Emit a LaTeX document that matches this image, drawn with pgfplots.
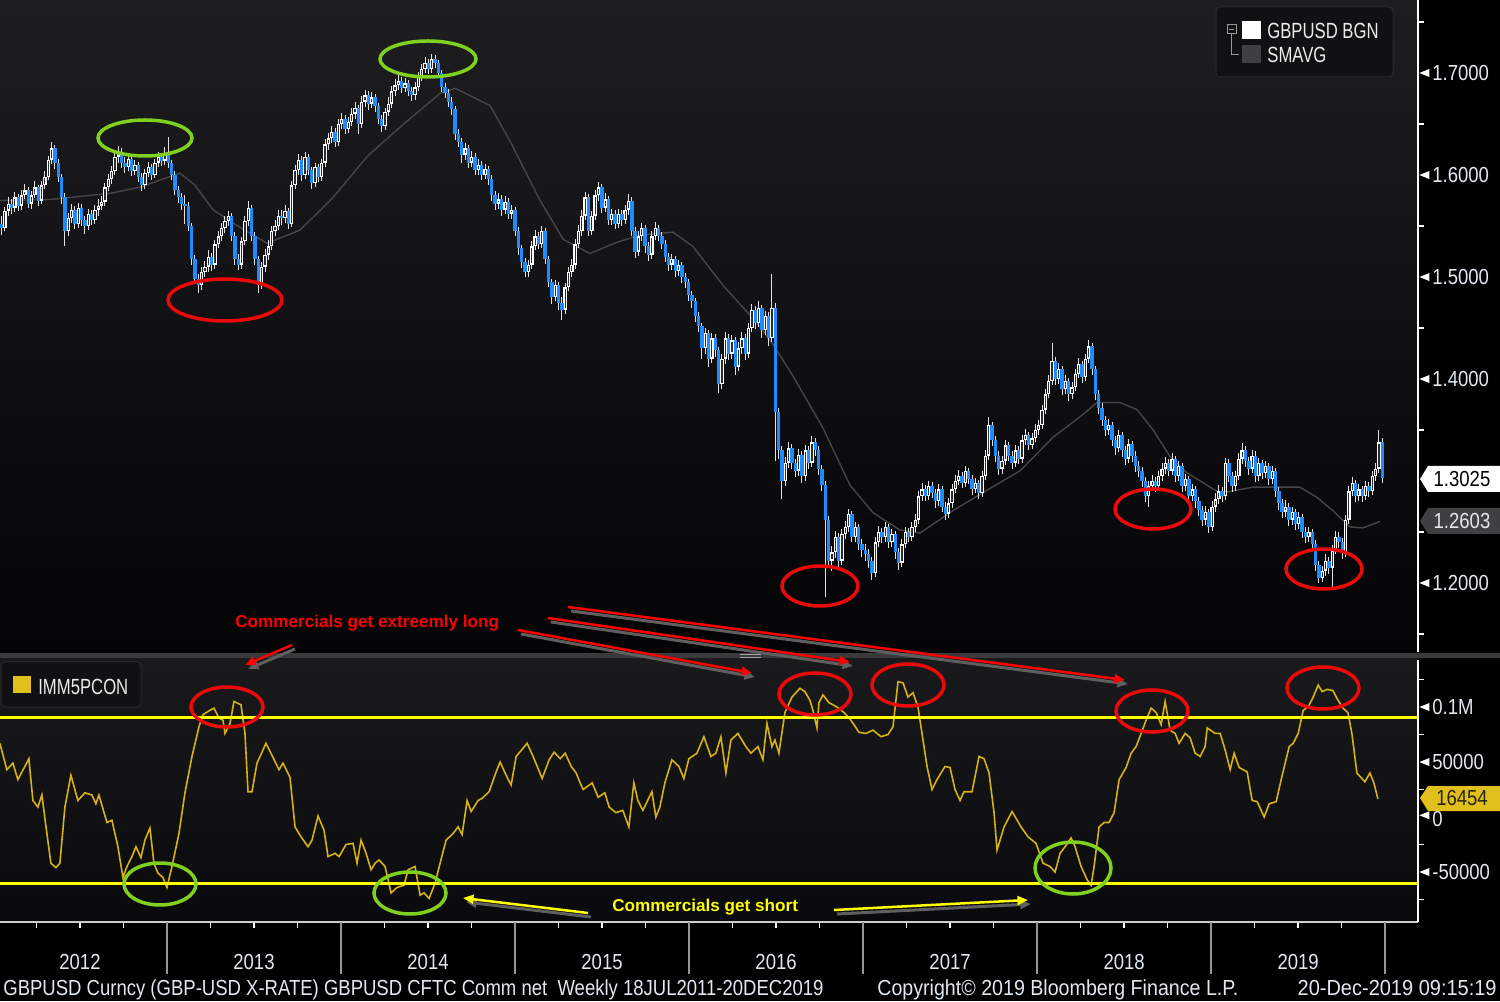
\documentclass[border=0pt]{standalone}
\usepackage{pgfplots}
\pgfplotsset{compat=1.18}
\usepackage{pgfplotstable}
\usepackage{fontspec}
\setmainfont{Liberation Sans}[FakeStretch=0.85]
\newfontfamily\legfam{Liberation Sans}[FakeStretch=0.76]
\newfontfamily\annfam{Liberation Sans}
\usetikzlibrary{arrows.meta}
\newlength\px \setlength\px{0.02cm}
\definecolor{bgtop}{RGB}{30,30,32}
\definecolor{bgbot}{RGB}{4,4,6}
\definecolor{lotop}{RGB}{26,26,28}
\definecolor{lobot}{RGB}{10,10,12}
\definecolor{axtext}{RGB}{226,232,240}
\definecolor{candleblue}{RGB}{30,140,255}
\definecolor{wick}{RGB}{225,225,225}
\definecolor{hollow}{RGB}{45,45,47}
\definecolor{smagray}{RGB}{70,70,72}
\definecolor{cotgold}{RGB}{214,178,18}
\definecolor{hline}{RGB}{255,255,0}
\definecolor{sep}{RGB}{58,58,60}
\definecolor{tagy}{RGB}{225,192,30}
\definecolor{tagg}{RGB}{64,64,66}
\definecolor{ellred}{RGB}{235,10,10}
\definecolor{ellgreen}{RGB}{128,208,32}
\definecolor{shadowc}{RGB}{95,95,95}
\definecolor{legbox}{RGB}{17,17,19}
\definecolor{legborder}{RGB}{42,42,44}
\definecolor{yeartick}{RGB}{150,150,150}
\definecolor{xaxisc}{RGB}{205,205,205}
\definecolor{legtext}{RGB}{236,236,236}
\newcommand\axfont{\fontsize{12.4pt}{12.4pt}\selectfont}
\newcommand\legfont{\legfam\fontsize{12.5pt}{12.5pt}\selectfont}
\newcommand\tri{\tikz[baseline={(0pt,-7.5\px)}]\fill[white] (0pt,0pt)--(10\px,4\px)--(10\px,-4\px)--cycle;\hspace{3\px}}
\tikzset{pix/.style={x=\px,y=-\px,shift={(0pt,1001\px)}}}

\pgfplotstableread{
o c h l
1.540 1.552 1.556 1.533
1.552 1.548 1.560 1.541
1.548 1.565 1.569 1.545
1.565 1.572 1.578 1.560
1.572 1.568 1.576 1.562
1.568 1.578 1.583 1.564
1.578 1.570 1.581 1.565
1.570 1.580 1.585 1.566
1.580 1.585 1.591 1.576
1.585 1.572 1.588 1.568
1.572 1.580 1.584 1.567
1.580 1.588 1.594 1.577
1.588 1.575 1.590 1.570
1.575 1.590 1.594 1.572
1.590 1.598 1.604 1.586
1.598 1.615 1.619 1.595
1.615 1.626 1.632 1.611
1.626 1.612 1.629 1.606
1.612 1.598 1.616 1.593
1.598 1.578 1.601 1.572
1.578 1.545 1.582 1.530
1.545 1.558 1.563 1.540
1.558 1.566 1.572 1.553
1.566 1.552 1.570 1.547
1.552 1.568 1.573 1.548
1.568 1.556 1.572 1.550
1.556 1.550 1.560 1.542
1.550 1.562 1.567 1.546
1.562 1.556 1.566 1.551
1.556 1.566 1.571 1.552
1.566 1.570 1.576 1.560
1.570 1.574 1.579 1.566
1.574 1.588 1.592 1.570
1.588 1.596 1.601 1.584
1.596 1.604 1.609 1.591
1.604 1.618 1.622 1.600
1.618 1.622 1.628 1.612
1.622 1.612 1.626 1.607
1.612 1.608 1.618 1.602
1.608 1.616 1.621 1.604
1.616 1.604 1.619 1.599
1.604 1.610 1.615 1.600
1.610 1.598 1.613 1.593
1.598 1.590 1.602 1.584
1.590 1.602 1.606 1.586
1.602 1.608 1.613 1.598
1.608 1.600 1.611 1.595
1.600 1.612 1.616 1.597
1.612 1.618 1.623 1.608
1.618 1.614 1.622 1.609
1.614 1.622 1.627 1.610
1.622 1.612 1.637 1.607
1.612 1.600 1.615 1.595
1.600 1.585 1.604 1.580
1.585 1.578 1.589 1.573
1.578 1.572 1.582 1.566
1.572 1.570 1.580 1.552
1.570 1.550 1.574 1.545
1.550 1.518 1.553 1.512
1.518 1.498 1.522 1.493
1.498 1.492 1.503 1.484
1.492 1.505 1.510 1.487
1.505 1.510 1.516 1.500
1.510 1.520 1.526 1.505
1.520 1.512 1.524 1.506
1.512 1.532 1.536 1.508
1.532 1.540 1.545 1.528
1.540 1.548 1.553 1.535
1.548 1.555 1.560 1.543
1.555 1.560 1.565 1.550
1.560 1.540 1.563 1.535
1.540 1.518 1.544 1.512
1.518 1.512 1.523 1.507
1.512 1.535 1.539 1.508
1.535 1.555 1.560 1.531
1.555 1.568 1.575 1.550
1.568 1.540 1.571 1.535
1.540 1.518 1.544 1.512
1.518 1.492 1.521 1.484
1.492 1.510 1.515 1.488
1.510 1.522 1.527 1.505
1.522 1.530 1.536 1.517
1.530 1.545 1.550 1.526
1.545 1.550 1.556 1.540
1.550 1.560 1.566 1.546
1.560 1.558 1.566 1.551
1.558 1.565 1.571 1.553
1.565 1.552 1.568 1.547
1.552 1.590 1.594 1.549
1.590 1.605 1.610 1.586
1.605 1.615 1.621 1.600
1.615 1.600 1.619 1.594
1.600 1.618 1.623 1.596
1.618 1.605 1.621 1.600
1.605 1.592 1.608 1.586
1.592 1.608 1.612 1.588
1.608 1.598 1.611 1.593
1.598 1.612 1.616 1.594
1.612 1.630 1.635 1.608
1.630 1.636 1.641 1.625
1.636 1.642 1.648 1.631
1.642 1.632 1.646 1.627
1.632 1.650 1.655 1.628
1.650 1.655 1.661 1.645
1.655 1.645 1.659 1.640
1.645 1.652 1.657 1.641
1.652 1.660 1.666 1.648
1.660 1.666 1.672 1.655
1.666 1.650 1.669 1.640
1.650 1.672 1.677 1.646
1.672 1.678 1.683 1.667
1.678 1.670 1.682 1.664
1.670 1.676 1.681 1.666
1.676 1.668 1.679 1.662
1.668 1.655 1.671 1.650
1.655 1.648 1.659 1.642
1.648 1.662 1.666 1.644
1.662 1.670 1.676 1.658
1.670 1.682 1.687 1.666
1.682 1.688 1.694 1.677
1.688 1.692 1.698 1.683
1.692 1.685 1.696 1.680
1.685 1.690 1.695 1.681
1.690 1.682 1.693 1.677
1.682 1.678 1.686 1.673
1.678 1.686 1.691 1.674
1.686 1.696 1.701 1.682
1.696 1.704 1.709 1.692
1.704 1.710 1.716 1.700
1.710 1.704 1.714 1.699
1.704 1.714 1.719 1.700
1.714 1.710 1.718 1.705
1.710 1.700 1.713 1.695
1.700 1.686 1.703 1.681
1.686 1.680 1.690 1.675
1.680 1.672 1.684 1.667
1.672 1.665 1.676 1.659
1.665 1.640 1.668 1.634
1.640 1.632 1.645 1.627
1.632 1.620 1.636 1.612
1.620 1.626 1.631 1.615
1.626 1.612 1.629 1.607
1.612 1.618 1.624 1.608
1.618 1.605 1.622 1.600
1.605 1.610 1.616 1.600
1.610 1.600 1.614 1.595
1.600 1.606 1.611 1.596
1.606 1.596 1.609 1.590
1.596 1.580 1.600 1.575
1.580 1.572 1.584 1.566
1.572 1.576 1.582 1.567
1.576 1.566 1.580 1.560
1.566 1.574 1.579 1.562
1.574 1.562 1.577 1.557
1.562 1.566 1.571 1.557
1.566 1.545 1.569 1.540
1.545 1.528 1.549 1.522
1.528 1.515 1.531 1.509
1.515 1.505 1.519 1.500
1.505 1.512 1.517 1.500
1.512 1.530 1.535 1.508
1.530 1.540 1.546 1.526
1.540 1.532 1.544 1.527
1.532 1.545 1.550 1.528
1.545 1.518 1.548 1.513
1.518 1.495 1.521 1.490
1.495 1.480 1.498 1.474
1.480 1.492 1.497 1.476
1.492 1.475 1.495 1.468
1.475 1.468 1.480 1.458
1.468 1.490 1.494 1.464
1.490 1.505 1.510 1.486
1.505 1.512 1.518 1.500
1.512 1.532 1.537 1.508
1.532 1.545 1.551 1.528
1.545 1.560 1.566 1.540
1.560 1.578 1.583 1.556
1.578 1.545 1.581 1.540
1.545 1.560 1.565 1.541
1.560 1.580 1.585 1.556
1.580 1.588 1.593 1.575
1.588 1.568 1.591 1.563
1.568 1.576 1.582 1.564
1.576 1.556 1.579 1.551
1.556 1.562 1.567 1.551
1.562 1.552 1.566 1.547
1.552 1.562 1.567 1.548
1.562 1.556 1.566 1.550
1.556 1.566 1.571 1.552
1.566 1.575 1.581 1.561
1.575 1.545 1.578 1.540
1.545 1.525 1.549 1.519
1.525 1.540 1.545 1.521
1.540 1.548 1.553 1.535
1.548 1.530 1.551 1.524
1.530 1.522 1.534 1.516
1.522 1.540 1.545 1.518
1.540 1.548 1.554 1.536
1.548 1.540 1.551 1.535
1.540 1.532 1.544 1.527
1.532 1.520 1.536 1.515
1.520 1.512 1.524 1.506
1.512 1.518 1.523 1.507
1.518 1.506 1.521 1.500
1.506 1.512 1.517 1.501
1.512 1.500 1.515 1.494
1.500 1.495 1.504 1.489
1.495 1.482 1.498 1.476
1.482 1.476 1.486 1.470
1.476 1.462 1.479 1.456
1.462 1.452 1.466 1.446
1.452 1.430 1.455 1.420
1.430 1.445 1.450 1.425
1.445 1.420 1.448 1.412
1.420 1.440 1.445 1.416
1.440 1.428 1.444 1.422
1.428 1.395 1.431 1.386
1.395 1.420 1.425 1.390
1.420 1.440 1.446 1.415
1.440 1.425 1.444 1.419
1.425 1.438 1.443 1.420
1.438 1.412 1.441 1.404
1.412 1.430 1.436 1.408
1.430 1.440 1.446 1.425
1.440 1.425 1.444 1.419
1.425 1.450 1.455 1.421
1.450 1.468 1.474 1.446
1.468 1.455 1.472 1.449
1.455 1.470 1.476 1.451
1.470 1.448 1.473 1.440
1.448 1.462 1.467 1.443
1.462 1.440 1.466 1.432
1.440 1.470 1.503 1.436
1.470 1.368 1.475 1.320
1.368 1.330 1.372 1.322
1.330 1.300 1.334 1.282
1.300 1.318 1.324 1.295
1.318 1.332 1.338 1.313
1.332 1.318 1.336 1.312
1.318 1.310 1.322 1.304
1.310 1.326 1.331 1.305
1.326 1.305 1.329 1.298
1.305 1.330 1.335 1.300
1.330 1.318 1.334 1.312
1.318 1.338 1.344 1.314
1.338 1.330 1.342 1.325
1.330 1.312 1.334 1.306
1.312 1.296 1.316 1.290
1.296 1.262 1.300 1.186
1.262 1.222 1.266 1.215
1.222 1.230 1.236 1.212
1.230 1.245 1.251 1.225
1.245 1.222 1.249 1.216
1.222 1.248 1.253 1.218
1.248 1.255 1.261 1.243
1.255 1.268 1.273 1.250
1.268 1.245 1.271 1.240
1.245 1.255 1.260 1.240
1.255 1.238 1.258 1.232
1.238 1.232 1.243 1.226
1.232 1.228 1.238 1.222
1.228 1.222 1.233 1.215
1.222 1.210 1.226 1.203
1.210 1.240 1.245 1.206
1.240 1.250 1.256 1.235
1.250 1.245 1.254 1.239
1.245 1.255 1.260 1.240
1.255 1.240 1.258 1.234
1.240 1.248 1.253 1.235
1.248 1.230 1.251 1.224
1.230 1.220 1.234 1.213
1.220 1.238 1.243 1.216
1.238 1.250 1.255 1.234
1.250 1.245 1.254 1.240
1.245 1.255 1.260 1.241
1.255 1.262 1.268 1.250
1.262 1.285 1.290 1.258
1.285 1.292 1.298 1.280
1.292 1.285 1.296 1.280
1.285 1.295 1.300 1.281
1.295 1.288 1.299 1.283
1.288 1.280 1.292 1.274
1.280 1.292 1.297 1.276
1.292 1.275 1.295 1.270
1.275 1.268 1.279 1.262
1.268 1.278 1.283 1.264
1.278 1.292 1.297 1.274
1.292 1.300 1.306 1.288
1.300 1.305 1.311 1.296
1.305 1.298 1.309 1.293
1.298 1.310 1.315 1.294
1.310 1.302 1.313 1.297
1.302 1.292 1.306 1.286
1.292 1.298 1.303 1.288
1.298 1.288 1.301 1.282
1.288 1.305 1.310 1.284
1.305 1.325 1.330 1.301
1.325 1.355 1.363 1.321
1.355 1.340 1.358 1.334
1.340 1.325 1.344 1.319
1.325 1.312 1.329 1.306
1.312 1.320 1.325 1.307
1.320 1.335 1.340 1.316
1.335 1.325 1.338 1.320
1.325 1.318 1.329 1.312
1.318 1.330 1.335 1.314
1.330 1.322 1.334 1.317
1.322 1.340 1.345 1.318
1.340 1.345 1.351 1.335
1.345 1.335 1.348 1.330
1.335 1.342 1.347 1.331
1.342 1.350 1.356 1.338
1.350 1.355 1.360 1.345
1.355 1.370 1.375 1.351
1.370 1.385 1.390 1.366
1.385 1.398 1.404 1.381
1.398 1.418 1.435 1.394
1.418 1.400 1.422 1.394
1.400 1.410 1.416 1.395
1.410 1.390 1.413 1.384
1.390 1.398 1.404 1.385
1.398 1.385 1.401 1.378
1.385 1.392 1.397 1.380
1.392 1.405 1.410 1.388
1.405 1.415 1.421 1.401
1.415 1.402 1.418 1.396
1.402 1.420 1.425 1.398
1.420 1.432 1.438 1.416
1.432 1.410 1.435 1.404
1.410 1.385 1.413 1.379
1.385 1.372 1.389 1.366
1.372 1.360 1.376 1.354
1.360 1.350 1.364 1.344
1.350 1.355 1.361 1.345
1.355 1.340 1.358 1.334
1.340 1.332 1.344 1.326
1.332 1.345 1.350 1.328
1.345 1.330 1.348 1.324
1.330 1.322 1.334 1.316
1.322 1.336 1.341 1.318
1.336 1.325 1.339 1.319
1.325 1.315 1.329 1.309
1.315 1.310 1.320 1.304
1.310 1.300 1.314 1.294
1.300 1.285 1.304 1.279
1.285 1.295 1.300 1.275
1.295 1.300 1.306 1.290
1.300 1.295 1.304 1.289
1.295 1.305 1.310 1.291
1.305 1.312 1.318 1.300
1.312 1.318 1.324 1.307
1.318 1.310 1.322 1.305
1.310 1.322 1.327 1.306
1.322 1.305 1.325 1.299
1.305 1.315 1.320 1.300
1.315 1.295 1.318 1.289
1.295 1.302 1.307 1.290
1.302 1.285 1.305 1.279
1.285 1.292 1.297 1.280
1.292 1.280 1.295 1.274
1.280 1.272 1.284 1.266
1.272 1.262 1.276 1.256
1.262 1.270 1.276 1.257
1.270 1.255 1.273 1.249
1.255 1.275 1.280 1.251
1.275 1.282 1.288 1.270
1.282 1.290 1.296 1.277
1.290 1.285 1.294 1.279
1.285 1.318 1.323 1.281
1.318 1.305 1.322 1.299
1.305 1.295 1.309 1.289
1.295 1.305 1.310 1.290
1.305 1.322 1.327 1.301
1.322 1.330 1.337 1.317
1.330 1.320 1.334 1.314
1.320 1.312 1.324 1.306
1.312 1.325 1.330 1.308
1.325 1.305 1.329 1.299
1.305 1.318 1.323 1.300
1.318 1.308 1.321 1.302
1.308 1.315 1.320 1.303
1.315 1.302 1.318 1.296
1.302 1.310 1.315 1.297
1.310 1.290 1.313 1.284
1.290 1.278 1.294 1.272
1.278 1.270 1.282 1.264
1.270 1.275 1.281 1.265
1.275 1.262 1.278 1.256
1.262 1.270 1.275 1.257
1.270 1.258 1.273 1.252
1.258 1.265 1.270 1.253
1.265 1.250 1.268 1.244
1.250 1.245 1.255 1.239
1.245 1.250 1.255 1.240
1.250 1.238 1.253 1.232
1.238 1.218 1.242 1.212
1.218 1.205 1.222 1.200
1.205 1.212 1.217 1.201
1.212 1.222 1.228 1.207
1.222 1.215 1.226 1.209
1.215 1.232 1.237 1.196
1.232 1.245 1.251 1.228
1.245 1.240 1.250 1.234
1.240 1.230 1.244 1.224
1.230 1.262 1.267 1.226
1.262 1.290 1.295 1.258
1.290 1.298 1.304 1.285
1.298 1.285 1.301 1.279
1.285 1.292 1.297 1.280
1.292 1.285 1.295 1.279
1.285 1.295 1.300 1.281
1.295 1.290 1.299 1.284
1.290 1.305 1.310 1.286
1.305 1.312 1.318 1.300
1.312 1.338 1.350 1.308
1.338 1.3025 1.342 1.298
}\candles

\begin{document}
\begin{tikzpicture}
\useasboundingbox (0,0) rectangle (1500\px,1001\px);
\fill[black] (0,0) rectangle (1500\px,1001\px);
\shade[top color=bgtop, bottom color=bgbot] (0,349\px) rectangle (1418\px,1001\px);
\shade[top color=lotop, bottom color=lobot] (0,79\px) rectangle (1418\px,342\px);
\fill[sep] (0,343\px) rectangle (1500\px,348\px);

% ---------------- price panel
\begin{axis}[
  at={(0pt,349\px)}, anchor=south west, scale only axis,
  width=1418\px, height=652\px,
  xmin=0.54, xmax=425.73, ymin=1.13239, ymax=1.77157,
  axis x line=none, axis y line*=right,
  axis line style={draw=white, line width=1.5\px},
  xtick=\empty,
  ytick={1.2,1.3,1.4,1.5,1.6,1.7},
  yticklabels={\tri1.2000,{},\tri1.4000,\tri1.5000,\tri1.6000,\tri1.7000},
  minor ytick={1.15,1.25,1.35,1.45,1.55,1.65,1.75},
  tick align=outside, major tick length=0pt, minor tick length=6\px,
  minor tick style={draw=white, line width=1.3\px},
  yticklabel style={anchor=west, inner sep=0pt, xshift=1\px, font=\axfont, text=axtext},
]
\addplot[smagray, line width=1.4\px, forget plot] coordinates {
(0.5,1.575) (15.5,1.576) (33.5,1.582) (42.5,1.588) (54.5,1.602) (59.0,1.590) (64.4,1.566) (70.4,1.553) (80.6,1.533) (90.5,1.546) (100.4,1.578) (110.6,1.618) (120.5,1.647) (132.5,1.680) (137.0,1.685) (147.5,1.668) (153.5,1.633) (162.5,1.575) (169.4,1.537) (177.4,1.523) (185.5,1.534) (192.4,1.541) (202.3,1.544) (208.3,1.530) (217.3,1.492) (227.5,1.455) (232.3,1.434) (238.3,1.403) (247.3,1.352) (255.4,1.296) (262.3,1.269) (270.4,1.252) (276.4,1.249) (286.3,1.271) (296.5,1.291) (306.4,1.310) (316.3,1.343) (324.4,1.363) (329.5,1.377) (336.4,1.377) (341.5,1.370) (346.3,1.350) (351.4,1.324) (356.5,1.308) (366.4,1.288) (376.3,1.294) (390.3,1.294) (395.4,1.284) (400.2,1.271) (405.3,1.255) (409.2,1.254) (414.3,1.2603)};
% wicks (low to high)
\addplot[wick, line width=1\px, forget plot, quiver={u=0, v=\thisrow{h}-\thisrow{l}}]
  table[x expr=\coordindex, y=l] {\candles};
% rising bodies (white)
\addplot[white, line width=3.4\px, forget plot, quiver={u=0, v={max(\thisrow{c}-\thisrow{o},0)}}]
  table[x expr=\coordindex, y=o] {\candles};
% hollow centre of the rising bodies
\addplot[hollow, line width=1.2\px, forget plot, quiver={u=0, v={max(\thisrow{c}-\thisrow{o}-0.0026,0)}}]
  table[x expr=\coordindex, y expr={\thisrow{o}+0.0013}] {\candles};
% falling bodies (blue)
\addplot[candleblue, line width=3.4\px, forget plot, quiver={u=0, v={min(\thisrow{c}-\thisrow{o},0)}}]
  table[x expr=\coordindex, y=o] {\candles};
\end{axis}

% ---------------- COT panel
\begin{axis}[
  at={(0pt,79\px)}, anchor=south west, scale only axis,
  width=1418\px, height=262\px,
  xmin=0.54, xmax=425.73, ymin=-95.45, ymax=142.73,
  axis x line*=bottom, axis y line*=right,
  axis line style={draw=white, line width=1.5\px},
  x axis line style={draw=xaxisc},
  xtick={24.52,76.70,128.88,181.06,233.24,285.42,337.60,389.78},
  xticklabels={2012,2013,2014,2015,2016,2017,2018,2019},
  minor xtick={11.48,24.525,...,416},
  extra x ticks={50.61,102.79,...,416},
  extra x tick labels={},
  extra x tick style={major tick length=52\px, tick style={draw=yeartick, line width=1.3\px}},
  xticklabel style={font=\axfont, text=axtext, yshift=-26\px},
  ytick={-50,0,50,100},
  yticklabels={\tri-50000,\tri\smash{\raisebox{-4\px}{0}},\tri50000,\tri0.1M},
  minor ytick={-75,-25,25,75,125},
  tick align=outside, major tick length=0pt, minor tick length=6\px,
  minor tick style={draw=white, line width=1.3\px},
  yticklabel style={anchor=west, inner sep=0pt, xshift=1\px, font=\axfont, text=axtext},
]
\addplot[cotgold, line width=1.6\px, forget plot] coordinates {
(0.5,67) (2.6,43) (4.4,49) (5.9,34) (8.0,46) (9.2,53) (10.4,15) (11.9,9) (13.1,20) (14.6,-15) (15.8,-42) (17.3,-46) (18.5,-42) (20.0,9) (21.8,38) (23.9,15) (26.0,22) (28.1,20) (29.3,12) (30.2,20) (32.6,-5) (34.1,-3) (35.9,-27) (37.4,-55) (38.6,-45) (40.1,-36) (41.3,-27) (42.8,-37) (44.0,-21) (45.5,-10) (46.7,-42) (47.9,-51) (49.4,-55) (50.6,-64) (52.1,-45) (54.2,-15) (56.0,22) (58.1,55) (60.2,82) (61.4,93) (63.5,97) (64.7,99) (66.2,90) (67.4,88) (68.0,76) (69.5,85) (70.7,105) (72.8,102) (74.0,76) (74.9,23) (76.1,23) (77.6,49) (80.3,67) (82.1,56) (84.2,43) (85.4,49) (87.5,36) (89.0,-9) (90.8,-18) (92.9,-27) (94.1,-21) (95.9,1) (97.7,-12) (98.9,-36) (101.0,-33) (102.2,-36) (104.3,-25) (106.4,-24) (107.6,-42) (108.8,-21) (110.3,-33) (111.8,-48) (113.0,-42) (114.2,-39) (116.0,-45) (117.8,-69) (119.6,-64) (121.7,-62) (122.9,-48) (125.0,-45) (126.5,-71) (127.7,-69) (129.2,-74) (131.0,-60) (132.5,-42) (134.3,-21) (136.4,-15) (137.9,-9) (139.1,-16) (140.6,15) (141.8,5) (143.9,15) (145.1,17) (147.2,23) (149.3,41) (150.5,50) (152.6,36) (153.8,29) (155.3,55) (158.6,67) (160.4,55) (163.1,35) (165.2,52) (166.7,59) (168.5,53) (170.0,58) (171.8,46) (173.3,40) (174.5,31) (175.4,25) (178.1,31) (179.9,18) (181.9,22) (183.2,9) (185.2,4) (187.3,6) (189.1,-9) (190.6,31) (191.8,15) (193.3,6) (196.0,23) (197.2,0) (198.4,9) (199.9,31) (202.0,52) (204.1,46) (205.6,35) (207.1,53) (209.5,58) (211.6,73) (213.7,55) (215.2,58) (216.7,73) (218.2,40) (219.7,70) (221.8,76) (224.2,64) (225.7,58) (227.8,64) (229.3,52) (230.5,85) (232.0,64) (232.9,70) (234.1,58) (235.9,95) (238.0,109) (240.4,117) (241.9,114) (243.4,106) (244.3,97) (245.5,81) (246.1,104) (247.3,111) (249.1,104) (251.5,100) (253.6,95) (255.7,88) (258.1,77) (260.2,76) (262.3,79) (264.7,73) (266.8,75) (268.3,82) (269.8,123) (271.3,122) (272.8,109) (274.3,113) (275.8,100) (277.3,70) (278.5,46) (280.0,25) (281.5,34) (283.9,46) (285.4,45) (286.9,25) (288.4,15) (289.6,23) (292.0,23) (294.1,55) (295.6,53) (297.1,40) (298.6,4) (299.5,-30) (301.6,-9) (304.0,5) (306.7,-9) (308.8,-18) (311.2,-24) (313.3,-42) (315.4,-45) (316.9,-50) (318.4,-33) (319.9,-27) (321.7,-19) (322.9,-27) (324.7,-45) (326.5,-57) (327.7,-62) (328.6,-45) (330.1,-9) (331.6,-5) (333.1,-5) (334.6,4) (336.1,34) (338.2,45) (339.7,58) (341.2,64) (342.7,76) (344.2,88) (345.7,99) (347.2,95) (348.7,84) (349.9,105) (351.4,79) (352.9,76) (354.1,67) (355.9,76) (357.4,72) (358.9,58) (360.4,55) (361.9,64) (362.5,81) (364.9,76) (366.4,76) (367.9,61) (369.4,43) (370.6,58) (372.1,45) (374.5,41) (376.0,15) (377.5,14) (379.6,0) (381.1,12) (383.2,14) (384.7,34) (387.1,64) (388.3,67) (389.8,76) (391.3,97) (392.8,100) (394.3,109) (395.8,120) (397.0,114) (398.5,116) (400.2,115) (401.4,108) (403.2,99) (404.7,95) (405.9,76) (407.4,40) (409.8,32) (411.3,40) (412.5,31) (413.7,16.454)};
\addplot[hline, line width=3\px, forget plot] coordinates {(0.54,90.91) (425.73,90.91)};
\addplot[hline, line width=3\px, forget plot] coordinates {(0.54,-60) (425.73,-60)};
\end{axis}

\begin{scope}[pix]
% grip on separator
\draw[gray!70, line width=1.2\px] (740,654.5) -- (761,654.5) (740,657.5) -- (761,657.5);
% legend top
\filldraw[fill=legbox, draw=legborder, line width=1\px, rounded corners=4\px] (1216,7) rectangle (1393,77);
\draw[gray!80, line width=1\px] (1227,25) rectangle (1236,34) (1229,29.5) -- (1234,29.5) (1231.5,34) -- (1231.5,55) -- (1239,55);
\fill[white] (1242,21) rectangle (1261,39);
\fill[tagg] (1242,45) rectangle (1261,63);
\node[anchor=base west, inner sep=0pt, text=legtext, font=\legfont] at (1267,39) {GBPUSD BGN};
\node[anchor=base west, inner sep=0pt, text=legtext, font=\legfont] at (1267,63) {SMAVG};
% legend lower
\filldraw[fill=legbox, draw=legborder, line width=1\px, rounded corners=4\px] (1,662) rectangle (141,707);
\fill[tagy] (13,676) rectangle (31,693);
\node[anchor=base west, inner sep=0pt, text=legtext, font=\legfont] at (38,694) {IMM5PCON};
% value tags
\fill[white] (1420,479) -- (1428,466) -- (1500,466) -- (1500,492) -- (1428,492) -- cycle;
\node[text=black, font=\axfont, inner sep=0pt] at (1462,479) {1.3025};
\fill[tagg] (1420,521) -- (1428,508) -- (1500,508) -- (1500,534) -- (1428,534) -- cycle;
\node[text=axtext, font=\axfont, inner sep=0pt] at (1462,521) {1.2603};
\fill[tagy] (1420,798) -- (1428,786) -- (1500,786) -- (1500,811) -- (1428,811) -- cycle;
\node[text={rgb,255:red,40;green,38;blue,10}, font=\axfont, inner sep=0pt] at (1462,798) {16454};
% ellipses
\begin{scope}[line width=3.5\px]
\draw[ellred] (225,300) ellipse [x radius=57, y radius=21];
\draw[ellred] (820,586) ellipse [x radius=38, y radius=20];
\draw[ellred] (1153,509) ellipse [x radius=38, y radius=20];
\draw[ellred] (1324,569) ellipse [x radius=38, y radius=20];
\draw[ellred] (227,707) ellipse [x radius=36, y radius=20];
\draw[ellred] (815,694) ellipse [x radius=36, y radius=21];
\draw[ellred] (908,685) ellipse [x radius=36, y radius=21];
\draw[ellred] (1152,711) ellipse [x radius=36, y radius=21];
\draw[ellred] (1323,688) ellipse [x radius=36, y radius=21];
\draw[ellgreen] (145,138) ellipse [x radius=47, y radius=18];
\draw[ellgreen] (428,59) ellipse [x radius=48, y radius=18];
\draw[ellgreen] (160,884) ellipse [x radius=36, y radius=21];
\draw[ellgreen] (410,893) ellipse [x radius=36, y radius=21];
\draw[ellgreen] (1073,868) ellipse [x radius=38, y radius=26];
\end{scope}
% arrows with shadows
\begin{scope}[line width=3\px, shadowc, -{Triangle[length=6pt,width=5pt]}]
\draw (295,649) -- (248,669);
\draw (521,634) -- (755,677);
\draw (551,622) -- (853,666);
\draw (571,611) -- (1128,684);
\draw (591,917) -- (466,902);
\draw (837,914) -- (1031,904);
\end{scope}
\begin{scope}[line width=2.5\px, -{Triangle[length=6pt,width=5pt]}]
\draw[red] (292,645) -- (245,665);
\draw[red] (518,630) -- (752,673);
\draw[red] (548,618) -- (850,662);
\draw[red] (568,607) -- (1125,680);
\draw[hline] (588,913) -- (463,898);
\draw[hline] (834,910) -- (1028,900);
\end{scope}
\node[anchor=base west, inner sep=0pt, text=red, font={\annfam\bfseries\fontsize{9.75pt}{10pt}\selectfont}] at (235,628) {Commercials get extreemly long};
\node[anchor=base west, inner sep=0pt, text=hline, font={\annfam\bfseries\fontsize{9.75pt}{10pt}\selectfont}] at (612,911) {Commercials get short};
% footer
\node[anchor=base west, inner sep=0pt, text=axtext, font=\axfont] at (3,995) {GBPUSD Curncy (GBP-USD X-RATE) GBPUSD CFTC Comm net\ \ Weekly 18JUL2011-20DEC2019};
\node[anchor=base west, inner sep=0pt, text=axtext, font=\axfont] at (877,995) {\scalebox{1.06}[1]{Copyright© 2019 Bloomberg Finance L.P.}};
\node[anchor=base east, inner sep=0pt, text=axtext, font=\axfont] at (1497,995) {\scalebox{1.08}[1]{20-Dec-2019 09:15:19}};
\end{scope}
\end{tikzpicture}
\end{document}
